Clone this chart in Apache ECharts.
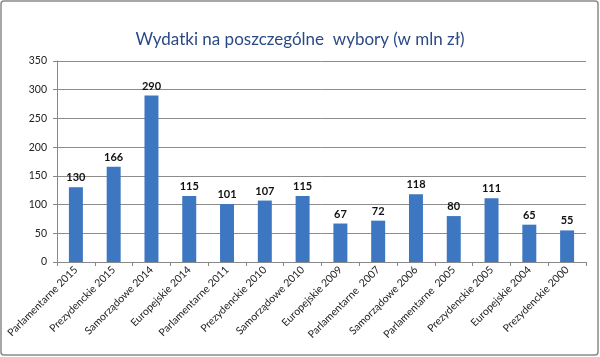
<!DOCTYPE html>
<html><head><meta charset="utf-8">
<script src="https://cdn.jsdelivr.net/npm/echarts@6/dist/echarts.min.js"></script>
<style>html,body{margin:0;padding:0;background:#fff}#c{width:600px;height:357px}</style>
</head><body><div id="c"></div>
<script>
const categories = ["Parlamentarne 2015","Prezydenckie 2015","Samorządowe 2014","Europejskie 2014","Parlamentarne 2011","Prezydenckie 2010","Samorządowe 2010","Europejskie 2009","Parlamentarne  2007","Samorządowe 2006","Parlamentarne  2005","Prezydenckie 2005","Europejskie 2004","Prezydenckie 2000"];
const values = [130,166,290,115,101,107,115,67,72,118,80,111,65,55];
const yTicks = [0,50,100,150,200,250,300,350];
const titleText = "Wydatki na poszczególne  wybory (w mln zł)";

const chart = echarts.init(document.getElementById('c'), null, {renderer:'canvas'});
chart.setOption({
  animation:false,
  backgroundColor:'#fff',
  title:{text:titleText,left:'center',top:26,textStyle:{fontFamily:'Lato',fontWeight:'normal',fontSize:17,color:'#2a4a86'}},
  graphic:[{type:'rect',shape:{x:1,y:1,width:597,height:354,r:3},style:{fill:'none',stroke:'#8a8a8a',lineWidth:1.5},silent:true}],
  grid:{left:57,right:14,top:61,bottom:95,containLabel:false},
  xAxis:{type:'category',data:categories,
    axisLine:{lineStyle:{color:'#888'}},
    axisTick:{show:true,alignWithLabel:false,length:4,lineStyle:{color:'#888'}},
    axisLabel:{rotate:45,interval:0,fontFamily:'Lato',fontSize:10.5,color:'#222',margin:6}},
  yAxis:{type:'value',min:yTicks[0],max:yTicks[yTicks.length-1],interval:50,
    axisLine:{show:true,lineStyle:{color:'#888'}},
    axisTick:{show:true,length:4,lineStyle:{color:'#888'}},
    axisLabel:{fontFamily:'Lato',fontSize:10.5,color:'#222',margin:10},
    splitLine:{lineStyle:{color:'#8c8c8c',width:1}}},
  series:[{type:'bar',data:values,barWidth:'37%',
    itemStyle:{color:'#3d77c2'},
    label:{show:true,position:'top',distance:4,fontFamily:'Lato',fontWeight:'bold',fontSize:11,color:'#111'}}]
});
</script></body></html>
